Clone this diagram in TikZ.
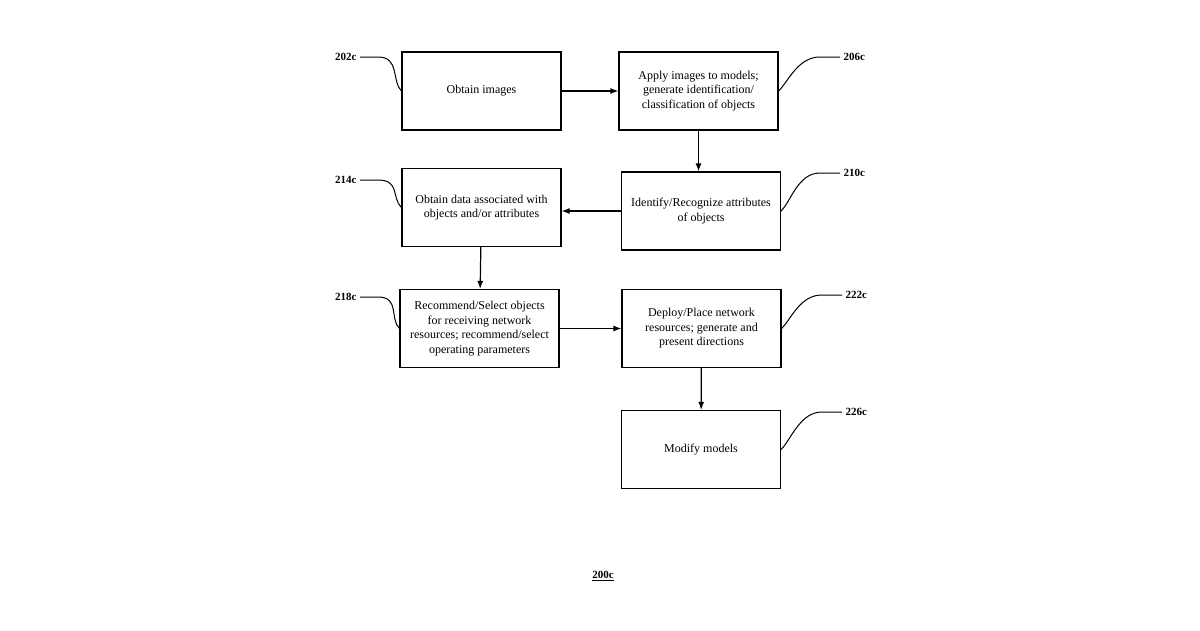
\documentclass[tikz,border=0pt]{standalone}
\usepackage{fontspec}
\setmainfont{Liberation Serif}
\usetikzlibrary{arrows.meta}
\begin{document}
\begin{tikzpicture}[x=1pt,y=-1pt,
  box/.style={draw,line width=1.2pt,minimum width=159pt,minimum height=78pt,align=center,font=\fontsize{12}{14.5}\selectfont,inner sep=1pt},
  lab/.style={font=\fontsize{11}{13}\selectfont\bfseries},
  arr/.style={-{Latex[length=8pt,width=6pt]},line width=1.2pt},
  lead/.style={line width=1pt}]
\useasboundingbox (0,0) rectangle (1200,630);
\node[box] (b202) at (481.5,91) {Obtain images};
\node[box] (b206) at (698.5,91) {Apply images to models;\\generate identification/\\classification of objects};
\node[box] (b210) at (701,211) {Identify/Recognize attributes\\of objects};
\node[box] (b214) at (481.5,207.5) {Obtain data associated with\\objects and/or attributes};
\node[box] (b218) at (479.5,328.5) {Recommend/Select objects\\for receiving network\\resources; recommend/select\\operating parameters};
\node[box] (b222) at (701.5,328.5) {Deploy/Place network\\resources; generate and\\present directions};
\node[box] (b226) at (701,449.5) {Modify models};
\draw[arr] (b202) -- (b206);
\draw[arr] (b206.south) -- (b206.south |- b210.north);
\draw[arr] (b210) -- (b214.east |- b210);
\draw[arr] (b214) -- (b218);
\draw[arr] (b218) -- (b222);
\draw[arr] (b222) -- (b226);
% labels left
\node[lab,anchor=east] (l202) at (360,57) {202c};
\node[lab,anchor=east] (l214) at (360,180) {214c};
\node[lab,anchor=east] (l218) at (360,297) {218c};
\node[lab,anchor=west] (l206) at (840,57) {206c};
\node[lab,anchor=west] (l210) at (840,173) {210c};
\node[lab,anchor=west] (l222) at (842,295) {222c};
\node[lab,anchor=west] (l226) at (842,412) {226c};
\draw[lead] (l202.east) -- ++(18,0) .. controls +(22,0) and +(-10,-10) .. (b202.west);
\draw[lead] (l214.east) -- ++(18,0) .. controls +(22,0) and +(-10,-10) .. (b214.west);
\draw[lead] (l218.east) -- ++(18,0) .. controls +(22,0) and +(-10,-10) .. (b218.west);
\draw[lead] (b206.east) .. controls +(10,-10) and +(-22,0) .. ([xshift=-20pt]l206.west) -- (l206.west);
\draw[lead] (b210.east) .. controls +(10,-10) and +(-22,0) .. ([xshift=-20pt]l210.west) -- (l210.west);
\draw[lead] (b222.east) .. controls +(10,-10) and +(-22,0) .. ([xshift=-20pt]l222.west) -- (l222.west);
\draw[lead] (b226.east) .. controls +(10,-10) and +(-22,0) .. ([xshift=-20pt]l226.west) -- (l226.west);
\node[lab] (t200) at (603,576) {\underline{200c}};
\end{tikzpicture}
\end{document}
